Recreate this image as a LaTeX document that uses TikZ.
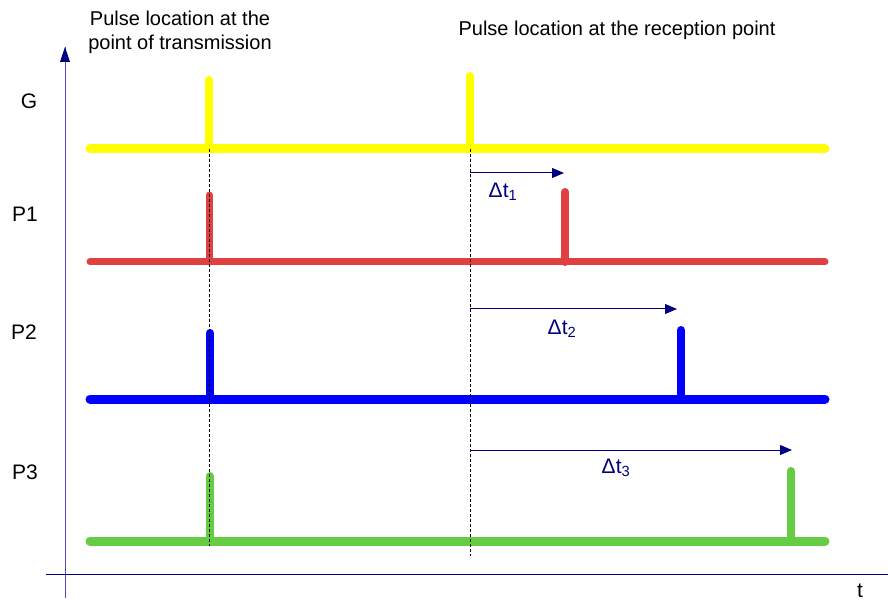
\documentclass[tikz,border=0pt]{standalone}
\usepackage{fontspec}
\setmainfont{Liberation Sans}
\usetikzlibrary{arrows.meta}
\definecolor{axblue}{HTML}{5050A8}
\definecolor{navy}{HTML}{000080}
\definecolor{sigyellow}{HTML}{FFFF00}
\definecolor{sigred}{HTML}{E04040}
\definecolor{sigblue}{HTML}{0000FF}
\definecolor{siggreen}{HTML}{66CC44}
\begin{document}
\begin{tikzpicture}[x=1pt,y=-1pt,
  lbl/.style={font=\fontsize{21}{24}\selectfont, inner sep=0pt},
  dlbl/.style={lbl, text=navy},
  sig/.style={line width=#1, line cap=round},
  guide/.style={black, line width=0.8pt, dash pattern=on 3pt off 2pt},
  delay/.style={navy, line width=1pt, -{Triangle[length=12pt,width=10pt]}}]
\useasboundingbox (0,0) rectangle (888,601);
\fill[white] (0,0) rectangle (888,601);
% axes
\coordinate (ybot) at (65,598);
\coordinate (ytop) at (65,47);
\coordinate (xl) at (46,574);
\coordinate (xr) at (888,574);
\draw[axblue, line width=1pt] (ybot) -- (ytop);
\fill[navy] (65,47) -- (60,62) -- (70,62) -- cycle;
\draw[navy, line width=1pt] (xl) -- (xr);
\node[lbl] (t) at (860,591) {t};
% titles
\node[lbl, align=center, font=\fontsize{20}{24}\selectfont] (tx) at (180,32) {Pulse location at the\\point of transmission};
\node[lbl, font=\fontsize{20}{24}\selectfont] (rx) at (617,30) {Pulse location at the reception point};
% row labels
\node[lbl] (lG) at (29,101) {G};
\node[lbl] (lP1) at (25,214) {P1};
\node[lbl] (lP2) at (24,332) {P2};
\node[lbl] (lP3) at (25,472) {P3};
% dashed guides
\coordinate (d1t) at (209,149);
\coordinate (d1b) at (209,546);
\coordinate (d2t) at (470,149);
\coordinate (d2b) at (470,556);
% G
\coordinate (Gl) at (90,149); \coordinate (Gr) at (825,149);
\coordinate (Ga) at (209,149); \coordinate (Gat) at (209,80);
\coordinate (Gb) at (470,149); \coordinate (Gbt) at (470,76);
\draw[sigyellow, sig=9pt] (Gl) -- (Gr);
\draw[sigyellow, sig=8pt] (Ga) -- (Gat);
\draw[sigyellow, sig=8pt] (Gb) -- (Gbt);
% P1
\coordinate (Al) at (90,262); \coordinate (Ar) at (825,262);
\coordinate (Aa) at (209,262); \coordinate (Aat) at (209,195);
\coordinate (Ab) at (565,262); \coordinate (Abt) at (565,192);
\draw[sigred, sig=7pt] (Al) -- (Ar);
\draw[sigred, sig=7pt] (Aa) -- (Aat);
\draw[sigred, sig=8pt] (Ab) -- (Abt);
% P2
\coordinate (Bl) at (90,399); \coordinate (Br) at (825,399);
\coordinate (Ba) at (210,399); \coordinate (Bat) at (210,333);
\coordinate (Bb) at (681,399); \coordinate (Bbt) at (681,330);
\draw[sigblue, sig=9pt] (Bl) -- (Br);
\draw[sigblue, sig=8pt] (Ba) -- (Bat);
\draw[sigblue, sig=8pt] (Bb) -- (Bbt);
% P3
\coordinate (Cl) at (90,541); \coordinate (Cr) at (825,541);
\coordinate (Ca) at (210,541); \coordinate (Cat) at (210,476);
\coordinate (Cb) at (791,541); \coordinate (Cbt) at (791,471);
\draw[siggreen, sig=9pt] (Cl) -- (Cr);
\draw[siggreen, sig=8pt] (Ca) -- (Cat);
\draw[siggreen, sig=8pt] (Cb) -- (Cbt);
% guides on top
\draw[guide] (d1t) -- (d1b);
\draw[guide] (d2t) -- (d2b);
% delays
\coordinate (a1s) at (470,173); \coordinate (a1e) at (564,173);
\coordinate (a2s) at (470,309); \coordinate (a2e) at (677,309);
\coordinate (a3s) at (470,450); \coordinate (a3e) at (792,450);
\draw[delay] (a1s) -- (a1e);
\draw[delay] (a2s) -- (a2e);
\draw[delay] (a3s) -- (a3e);
\node[dlbl] (dt1) at (503,192) {Δt\textsubscript{1}};
\node[dlbl] (dt2) at (562,329) {Δt\textsubscript{2}};
\node[dlbl] (dt3) at (616,468) {Δt\textsubscript{3}};
\end{tikzpicture}
\end{document}
